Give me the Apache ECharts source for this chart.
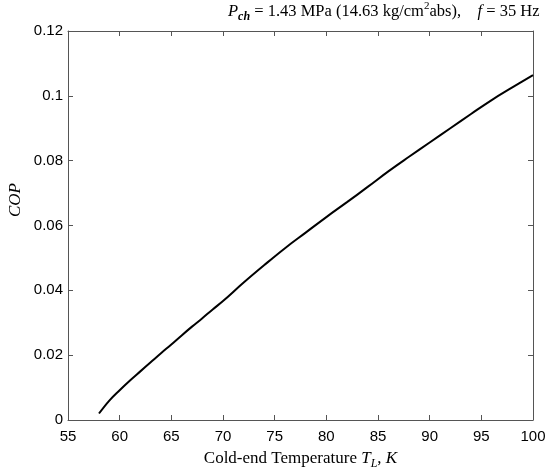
<!DOCTYPE html>
<html><head><meta charset="utf-8">
<script src="https://cdn.jsdelivr.net/npm/echarts@6/dist/echarts.min.js"></script>
<style>html,body{margin:0;padding:0;background:#fff}#c{width:550px;height:468px}</style>
</head><body><div id="c"></div>
<script>
var temperature = [58, 59, 60, 61, 62, 63, 64, 65, 66, 67, 68, 69, 70, 72, 74, 76, 78, 80, 82, 84, 86, 88, 90, 92, 94, 96, 98, 100];
var cop = [0.0020, 0.0060, 0.0092, 0.0122, 0.0150, 0.0178, 0.0206, 0.0233, 0.0261, 0.0288, 0.0314, 0.0341, 0.0367, 0.0424, 0.0478, 0.0530, 0.0578, 0.0626, 0.0672, 0.0719, 0.0767, 0.0812, 0.0856, 0.0900, 0.0944, 0.0987, 0.1026, 0.1064];
var xTicks = [55, 60, 65, 70, 75, 80, 85, 90, 95, 100];
var yTicks = [0, 0.02, 0.04, 0.06, 0.08, 0.1, 0.12];

var serif = '"Liberation Serif", "DejaVu Serif", serif';
var sans = '"Liberation Sans", Arial, sans-serif';
var chart = echarts.init(document.getElementById('c'), null, {renderer: 'canvas'});
var axisCol = '#555';
var tickStyle = {show: true, inside: true, length: 5, lineStyle: {color: axisCol, width: 1}};
chart.setOption({
  animation: false,
  backgroundColor: '#fff',
  title: {
    text: '{i|P}{sub|ch}{n| = 1.43 MPa (14.63 kg/cm}{sup|2}{n|abs),    }{i|f}{n| = 35 Hz}',
    left: 228, top: 1, padding: 0,
    textStyle: {
      fontWeight: 'normal',
      rich: {
        n: {fontFamily: serif, fontSize: 16.5, fontWeight: 'normal', color: '#000', lineHeight: 22},
        i: {fontFamily: serif, fontSize: 16.5, fontWeight: 'normal', fontStyle: 'italic', color: '#000', lineHeight: 22},
        sub: {fontFamily: serif, fontSize: 12, fontStyle: 'italic', fontWeight: 'bold', color: '#000', lineHeight: 12, verticalAlign: 'bottom'},
        sup: {fontFamily: serif, fontSize: 11, fontWeight: 'normal', color: '#000', lineHeight: 12, verticalAlign: 'top'}
      }
    }
  },
  grid: {left: 68, right: 17, top: 31, bottom: 48, containLabel: false, outerBoundsMode: 'none'},
  graphic: [{
    type: 'text', x: 16, y: 200, rotation: Math.PI / 2,
    style: {text: 'COP', fontFamily: serif, fontSize: 17, fontStyle: 'italic', fill: '#000', align: 'center', verticalAlign: 'middle'}
  }],
  xAxis: [{
    type: 'value', min: 55, max: 100, interval: 5,
    axisLine: {show: true, onZero: false, lineStyle: {color: axisCol, width: 1}},
    axisTick: tickStyle,
    splitLine: {show: false},
    axisLabel: {color: '#000', fontFamily: sans, fontSize: 15, margin: 9,
      formatter: function (v) { return xTicks.indexOf(v) >= 0 ? String(v) : ''; }},
    name: '{n|Cold-end Temperature }{i|T}{sub|L}{n|, }{i|K}',
    nameLocation: 'middle', nameGap: 28,
    nameTextStyle: {
      rich: {
        n: {fontFamily: serif, fontSize: 17, color: '#000', lineHeight: 22},
        i: {fontFamily: serif, fontSize: 17, fontStyle: 'italic', color: '#000', lineHeight: 22},
        sub: {fontFamily: serif, fontSize: 12, fontStyle: 'italic', color: '#000', lineHeight: 12, verticalAlign: 'bottom'}
      }
    }
  }, {
    type: 'value', min: 55, max: 100, interval: 5, position: 'top',
    axisLine: {show: true, onZero: false, lineStyle: {color: axisCol, width: 1}},
    axisTick: tickStyle, axisLabel: {show: false}, splitLine: {show: false}
  }],
  yAxis: [{
    type: 'value', min: 0, max: 0.12, interval: 0.02,
    axisLine: {show: true, onZero: false, lineStyle: {color: axisCol, width: 1}},
    axisTick: tickStyle,
    splitLine: {show: false},
    axisLabel: {color: '#000', fontFamily: sans, fontSize: 15, margin: 5,
      formatter: function (v) {
        for (var k = 0; k < yTicks.length; k++) { if (Math.abs(yTicks[k] - v) < 1e-9) return String(yTicks[k]); }
        return '';
      }}
  }, {
    type: 'value', min: 0, max: 0.12, interval: 0.02, position: 'right',
    axisLine: {show: true, onZero: false, lineStyle: {color: axisCol, width: 1}},
    axisTick: tickStyle, axisLabel: {show: false}, splitLine: {show: false}
  }],
  series: [{
    type: 'line', xAxisIndex: 0, yAxisIndex: 0,
    data: temperature.map(function (t, i) { return [t, cop[i]]; }),
    smooth: 0.4, showSymbol: false, symbol: 'none',
    lineStyle: {color: '#000', width: 2}
  }]
});
</script></body></html>
